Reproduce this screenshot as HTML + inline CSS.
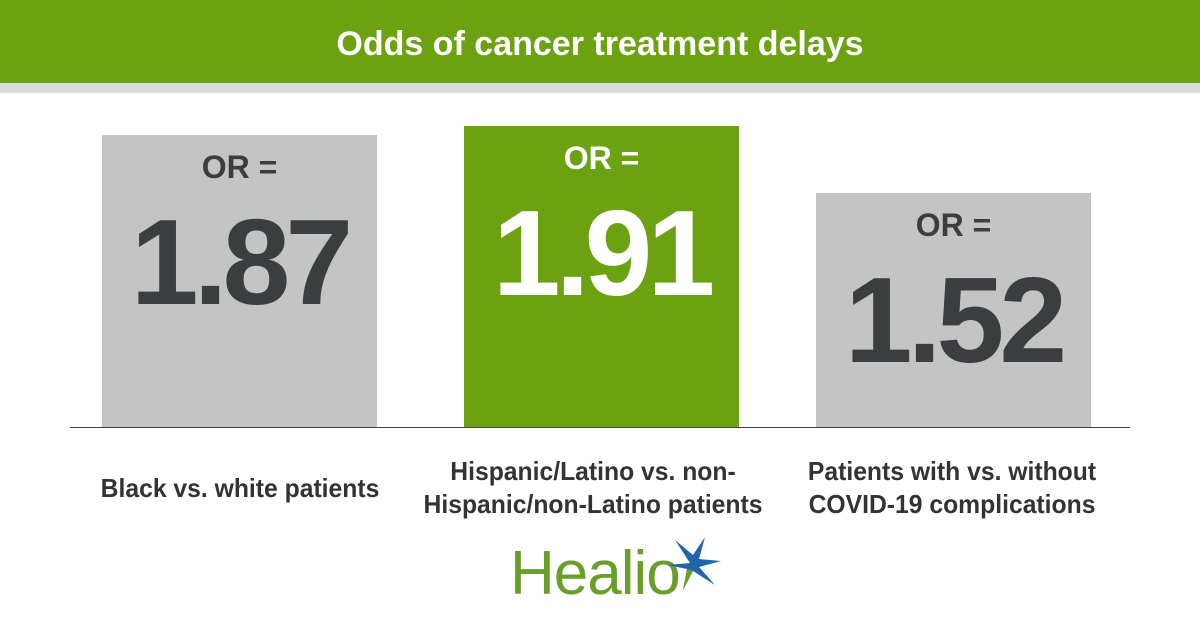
<!DOCTYPE html>
<html><head><meta charset="utf-8"><style>
body{margin:0;width:1200px;height:630px;background:#fff;position:relative;overflow:hidden;font-family:"Liberation Sans",sans-serif}
.hdr{position:absolute;left:0;top:0;width:1200px;height:83px;background:#6ca111}
.hdr div{position:absolute;left:0;right:0;top:25px;text-align:center;color:#fff;font-weight:bold;font-size:34px}
.strip{position:absolute;left:0;top:83px;width:1200px;height:10px;background:#dcdbdc}
.bar{position:absolute;width:275px;background:#c4c4c4;color:#3a3e3f;text-align:center}
.bar .or{position:absolute;left:0;right:0;top:14px;font-size:32px;font-weight:bold}
.bar .n{position:absolute;left:0;right:0;top:54px;font-size:122px;font-weight:bold;letter-spacing:-5px;line-height:1.2}
.base{position:absolute;left:70px;top:427px;width:1060px;height:1px;background:#444}
.lab{position:absolute;width:400px;text-align:center;font-weight:bold;font-size:26px;line-height:33px;color:#333;transform:scaleX(0.95)}
</style></head><body>
<div class="hdr"><div>Odds of cancer treatment delays</div></div>
<div class="strip"></div>
<div class="bar" style="left:102px;top:135px;height:292px"><div class="or">OR =</div><div class="n">1.87</div></div>
<div class="bar" style="left:464px;top:126px;height:301px;background:#6ca111;color:#fff"><div class="or">OR =</div><div class="n">1.91</div></div>
<div class="bar" style="left:816px;top:193px;height:234px"><div class="or">OR =</div><div class="n">1.52</div></div>
<div class="base"></div>
<div class="lab" style="left:40px;top:472px">Black vs. white patients</div>
<div class="lab" style="left:393px;top:455px">Hispanic/Latino vs. non-<br>Hispanic/non-Latino patients</div>
<div class="lab" style="left:752px;top:455px">Patients with vs. without<br>COVID-19 complications</div>
<div style="position:absolute;left:510px;top:538px;font-size:62px;color:#6a9e2a;letter-spacing:-1px">Healio</div>
<svg style="position:absolute;left:655px;top:535px" width="70" height="60" viewBox="0 0 70 60">
<polygon points="35,28 20,5 38,20 50,2 44,24 66,26 44,32 60,50 38,36 28,55 32,34 12,30" fill="#1f65a8"/>
<polygon points="32,34 28,55 38,36" fill="#6a9e2a"/>
</svg>
</body></html>
